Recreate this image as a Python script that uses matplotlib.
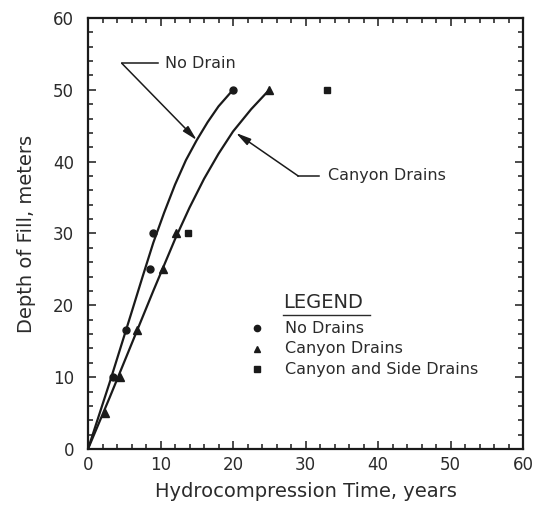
import numpy as np
import matplotlib.pyplot as plt

# measured points
nodrain_t = [3.4, 5.3, 8.6, 9.0, 20.0]
nodrain_d = [10, 16.5, 25, 30, 50]
canyon_t = [2.3, 4.4, 6.8, 10.4, 12.2, 25.0]
canyon_d = [5, 10, 16.5, 25, 30, 50]
side_t = [13.8, 32.9]
side_d = [30, 50]

# hand-drawn trend curves
curve_nd_t = [0, 3, 6, 7.5, 9, 10.5, 12, 13.5, 15, 16.5, 18, 20]
curve_nd_d = [0, 9.3, 19.0, 23.9, 28.7, 32.9, 36.8, 40.2, 43.0, 45.5, 47.7, 50.0]
curve_cd_t = [0, 3, 6, 9, 12, 14, 16, 18, 20, 22.5, 25]
curve_cd_d = [0, 7.2, 14.6, 22.0, 29.2, 33.6, 37.6, 41.1, 44.2, 47.3, 50.0]

legend_labels = ["No Drains", "Canyon Drains", "Canyon and Side Drains"]
ticks = [0, 10, 20, 30, 40, 50, 60]

txt = "#2b2b2b"
ink = "#1a1a1a"
plt.rcParams["font.family"] = "DejaVu Sans"

fig = plt.figure(figsize=(5.37, 5.05), dpi=100)
ax = fig.add_axes([0.1639, 0.1109, 0.8101, 0.8535])

ax.plot(curve_nd_t, curve_nd_d, color=ink, lw=1.6)
ax.plot(curve_cd_t, curve_cd_d, color=ink, lw=1.6)
ax.plot(nodrain_t, nodrain_d, "o", color=ink, ms=5)
ax.plot(canyon_t, canyon_d, "^", color=ink, ms=5.5)
ax.plot(side_t, side_d, "s", color=ink, ms=5)

# callouts
arrow = dict(arrowstyle="-|>,head_length=0.9,head_width=0.22", color=ink,
             lw=1.1, shrinkA=0, shrinkB=0)
ax.plot([4.65, 9.7], [53.7, 53.7], color=ink, lw=1.1)
ax.annotate("", xy=(15.0, 43.0), xytext=(4.65, 53.7), arrowprops=arrow)
ax.text(10.6, 53.7, "No Drain", fontsize=11.5, color=txt, va="center")
ax.plot([29.0, 31.8], [38.0, 38.0], color=ink, lw=1.1)
ax.annotate("", xy=(20.4, 44.0), xytext=(29.0, 38.0), arrowprops=arrow)
ax.text(33.1, 38.1, "Canyon Drains", fontsize=11.5, color=txt, va="center")

# hand legend
ax.text(26.9, 20.4, "LEGEND", fontsize=14, color=txt, va="center")
ax.plot([26.9, 38.9], [18.7, 18.7], color=txt, lw=1.0)
markers = ["o", "^", "s"]
sizes = [4.5, 5, 4.5]
for i, lab in enumerate(legend_labels):
    yy = 16.8 - 2.85 * i
    ax.plot([23.3], [yy], markers[i], color=ink, ms=sizes[i])
    ax.text(27.1, yy, lab, fontsize=11.5, color=txt, va="center")

ax.set_xlim(0, 60)
ax.set_ylim(0, 60)
ax.set_xticks(ticks)
ax.set_yticks(ticks)
ax.set_xticks(np.arange(0, 61, 2), minor=True)
ax.set_yticks(np.arange(0, 61, 2), minor=True)
ax.tick_params(which="both", direction="in", top=True, right=True, width=1.1, colors=ink,
               labelcolor=txt, labelsize=12)
ax.tick_params(which="major", length=6)
ax.tick_params(which="minor", length=3.5)
ax.tick_params(axis="y", pad=10)
ax.tick_params(axis="x", pad=5)
for s in ax.spines.values():
    s.set_linewidth(1.6)
    s.set_color(ink)

ax.set_xlabel("Hydrocompression Time, years", fontsize=14, color=txt, labelpad=6)
ax.set_ylabel("Depth of Fill, meters", fontsize=14, color=txt, labelpad=12)

fig.savefig("out.png", dpi=100)
